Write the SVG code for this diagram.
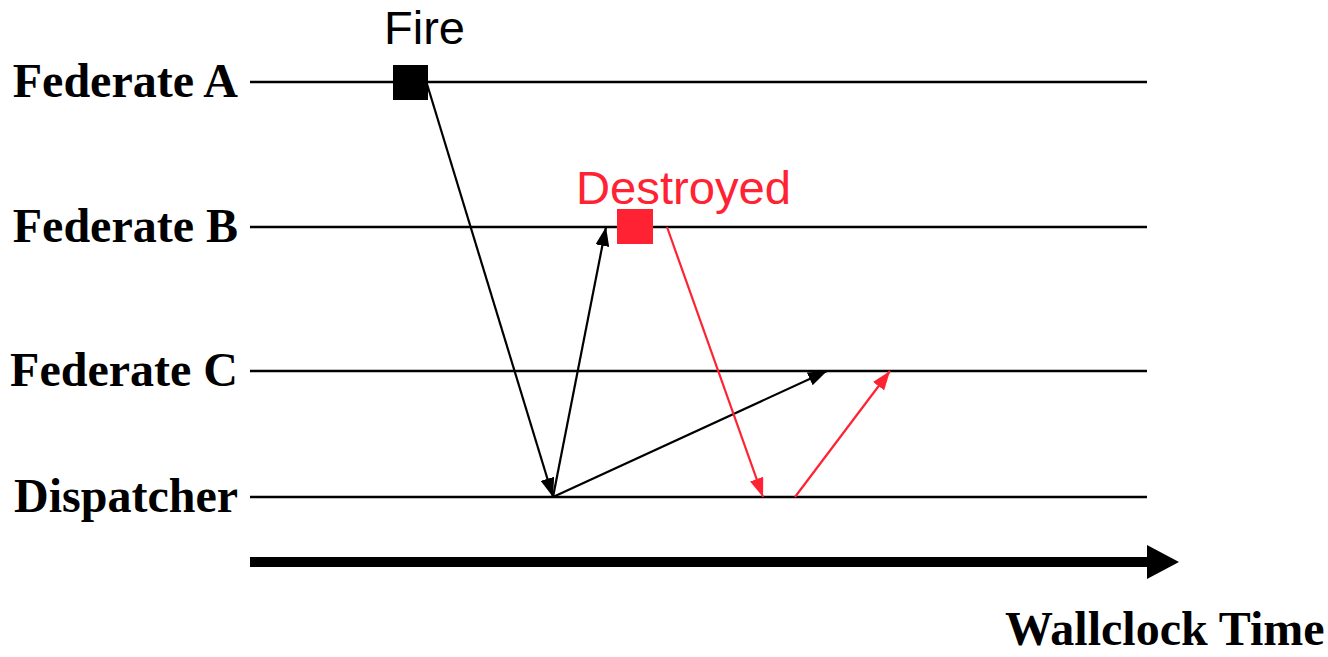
<svg xmlns="http://www.w3.org/2000/svg" width="1328" height="657" viewBox="0 0 1328 657">
<style>
.lbl{font-family:"Liberation Serif","Times New Roman",serif;font-weight:bold;font-size:48px;fill:#000}
.ann{font-family:"Liberation Sans",Arial,sans-serif;font-size:47px}
.tl{stroke:#000;stroke-width:2.5;fill:none}
.blk{stroke:#000;stroke-width:2.2;fill:none}
.red{stroke:#ff2233;stroke-width:2.2;fill:none}
</style>
<defs>
<marker id="ab" markerUnits="userSpaceOnUse" markerWidth="20" markerHeight="14" refX="19" refY="7" orient="auto"><path d="M0,0 L19,7 L0,14 Z" fill="#000"/></marker>
<marker id="ar" markerUnits="userSpaceOnUse" markerWidth="20" markerHeight="14" refX="19" refY="7" orient="auto"><path d="M0,0 L19,7 L0,14 Z" fill="#ff2233"/></marker>
</defs>
<g id="fedA"><text class="lbl" x="238" y="97" text-anchor="end">Federate A</text><line class="tl" x1="250" y1="82" x2="1147" y2="82"/></g>
<g id="fedB"><text class="lbl" x="238" y="242" text-anchor="end">Federate B</text><line class="tl" x1="250" y1="227" x2="1147" y2="227"/></g>
<g id="fedC"><text class="lbl" x="238" y="386" text-anchor="end">Federate C</text><line class="tl" x1="250" y1="371" x2="1147" y2="371"/></g>
<g id="dispatcher"><text class="lbl" x="238" y="512" text-anchor="end">Dispatcher</text><line class="tl" x1="250" y1="497" x2="1147" y2="497"/></g>
<g id="fire"><rect x="393" y="65" width="35" height="35" fill="#000"/><text class="ann" x="384" y="44" fill="#000">Fire</text></g>
<g id="destroyed"><rect x="617" y="209" width="36" height="35" fill="#ff2233"/><text class="ann" x="576" y="204" fill="#ff2233" textLength="215" lengthAdjust="spacingAndGlyphs">Destroyed</text></g>
<g id="time"><rect x="250" y="557" width="898" height="10" fill="#000"/><path d="M1147,545 L1179,562 L1147,579 Z" fill="#000"/><text class="lbl" x="1005" y="645">Wallclock Time</text></g>
<g id="connectors">
<line class="blk" x1="427" y1="84" x2="553" y2="497" marker-end="url(#ab)"/>
<line class="blk" x1="553" y1="497" x2="606" y2="227" marker-end="url(#ab)"/>
<line class="blk" x1="553" y1="497" x2="827" y2="371" marker-end="url(#ab)"/>
<line class="red" x1="667" y1="227" x2="763" y2="497" marker-end="url(#ar)"/>
<line class="red" x1="795" y1="497" x2="890" y2="371" marker-end="url(#ar)"/>
</g>
</svg>
